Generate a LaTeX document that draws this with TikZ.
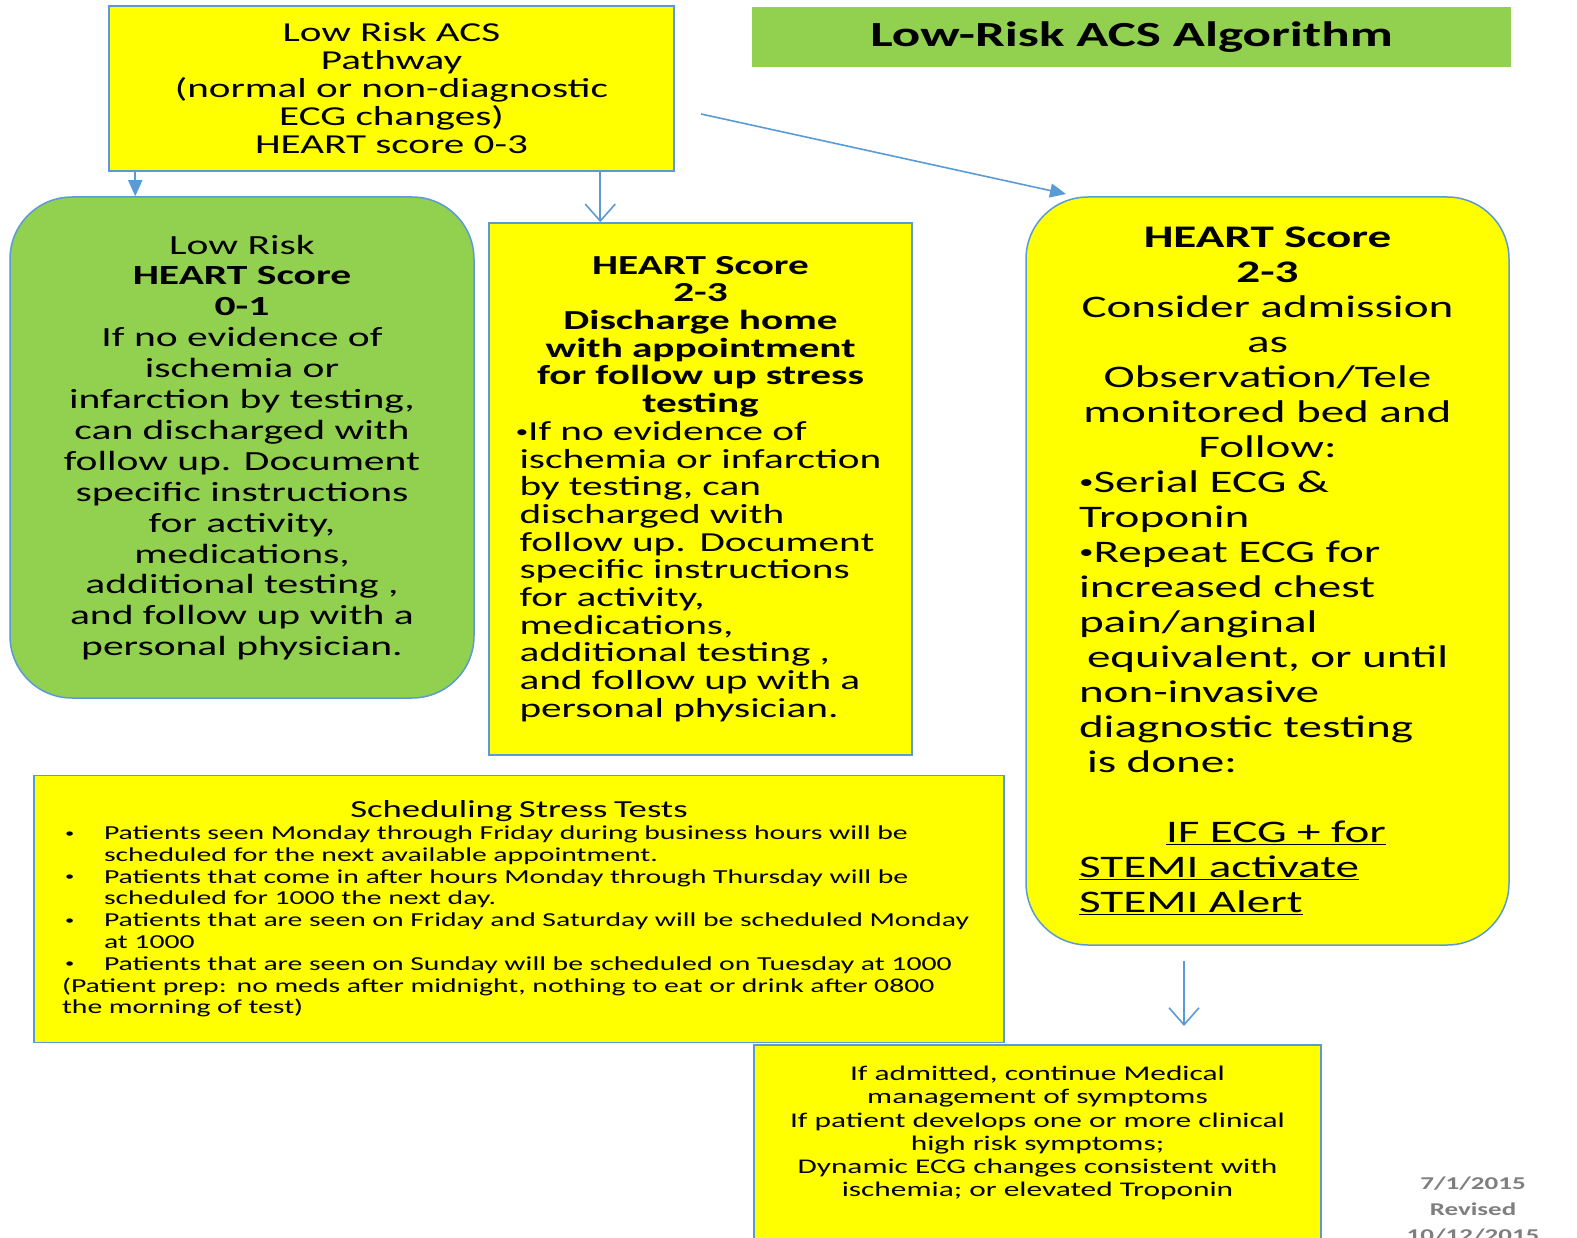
\documentclass[tikz,border=0pt]{standalone}
\usepackage{graphicx}
\usepackage{fontspec}
\setmainfont{Carlito}[FakeStretch=1.5]
\usetikzlibrary{arrows.meta,calc}
\definecolor{boxyellow}{HTML}{FFFF00}
\definecolor{boxgreen}{HTML}{92D050}
\definecolor{edgeblue}{HTML}{5B9BD5}
\definecolor{dategray}{HTML}{7F7F7F}
\newcommand\smallbul{\raisebox{0.12em}{\scalebox{0.62}{•}}}
\newcommand\listbul{\makebox[42pt][l]{\hspace*{3pt}\smallbul}}
\begin{document}
\begin{tikzpicture}[x=1pt,y=-1pt,
  panel/.style={draw=edgeblue, line width=1.5pt, inner sep=0pt},
  ybox/.style={panel, fill=boxyellow},
  gbox/.style={panel, fill=boxgreen},
  roundbox/.style={rounded corners=62pt},
  arrfill/.style={draw=edgeblue, line width=1.6pt, -{Triangle[length=16pt,width=14pt]}},
  arrbarb/.style={draw=edgeblue, line width=1.6pt, -{Straight Barb[length=17pt,width=30pt,line width=1.6pt]}},
]
\useasboundingbox (0,0) rectangle (1577,1238);
\fill[white] (0,0) rectangle (1577,1238);

% title banner
\node[fill=boxgreen, inner sep=0pt, minimum width=759pt, minimum height=60pt,
      font={\fontsize{35.3}{38}\selectfont\bfseries}] (title) at (1131.5,37) {Low-Risk ACS Algorithm};

% entry box
\node[ybox, minimum width=565pt, minimum height=165pt, align=center,
      font={\fontsize{27.4}{28}\selectfont}] (top) at (391.5,88.5)
  {Low Risk ACS\\Pathway\\(normal or non-diagnostic\\ECG changes)\\HEART score 0-3};

% HEART 0-1
\node[gbox, roundbox, minimum width=464pt, minimum height=501pt, align=center,
      font={\fontsize{27.7}{30.9}\selectfont}] (green) at (242,447.5)
  {Low Risk\\\textbf{HEART Score}\\\textbf{0-1}\\If no evidence of\\ischemia or\\infarction by testing,\\can discharged with\\follow up. Document\\specific instructions\\for activity,\\medications,\\additional testing ,\\and follow up with a\\personal physician.};

% HEART 2-3 discharge
\node[ybox, minimum width=423pt, minimum height=532pt, text width=376pt, align=left,
      font={\fontsize{27.5}{27.7}\selectfont}] (mid) at (700.5,489)
  {\parindent=0pt
   {\centering\bfseries HEART Score\\2-3\\Discharge home\\with appointment\\for follow up stress\\testing\par}
   {\raggedright\leftskip=7pt\hspace*{-4pt}\smallbul If no evidence of\\ischemia or infarction\\by testing, can\\discharged with\\follow up. Document\\specific instructions\\for activity,\\medications,\\additional testing ,\\and follow up with a\\personal physician.\par}};

% HEART 2-3 admission
\node[ybox, roundbox, minimum width=483pt, minimum height=748pt, text width=377pt, align=left,
      font={\fontsize{31.4}{35}\selectfont}] (right) at (1267.5,571)
  {\parindent=0pt
   {\centering\textbf{HEART Score}\\\textbf{2-3}\\Consider admission\\as\\ Observation/Tele\\monitored bed and\\Follow:\par}
   {\raggedright \smallbul Serial ECG \&\\Troponin\\\smallbul Repeat ECG for\\increased chest\\pain/anginal\\\hspace*{8pt}equivalent, or until\\non-invasive\\diagnostic testing\\\hspace*{8pt}is done:\\[35pt]
   \hspace*{87pt}\underline{IF ECG + for}\\\underline{STEMI activate}\\\underline{STEMI Alert}\par}
   \vspace*{-18pt}};

% scheduling notes
\node[ybox, minimum width=970pt, minimum height=267pt, text width=914pt, align=left,
      font={\fontsize{19.8}{21.8}\selectfont}] (sched) at (519,909)
  {\parindent=0pt
   {\centering\fontsize{24.5}{24}\selectfont Scheduling Stress Tests\par}
   \raggedright
   \listbul Patients seen Monday through Friday during business hours will be\par
   \hspace*{42pt}scheduled for the next available appointment.\par
   \listbul Patients that come in after hours Monday through Thursday will be\par
   \hspace*{42pt}scheduled for 1000 the next day.\par
   \listbul Patients that are seen on Friday and Saturday will be scheduled Monday\par
   \hspace*{42pt}at 1000\par
   \listbul Patients that are seen on Sunday will be scheduled on Tuesday at 1000\par
   (Patient prep: no meds after midnight, nothing to eat or drink after 0800\par
   the morning of test)\par};

% follow-up box (runs past the lower edge)
\node[ybox, anchor=north, minimum width=567pt, minimum height=230pt] (botbox) at (1037.5,1044) {};
\node[align=center, font={\fontsize{20.9}{23.1}\selectfont}] (bottxt) at (1037.5,1133)
  {If admitted, continue Medical\\management of symptoms\\If patient develops one or more clinical\\high risk symptoms;\\Dynamic ECG changes consistent with\\ischemia; or elevated Troponin};

% revision stamp
\node[align=center, text=dategray, font={\fontsize{18}{26}\selectfont\bfseries}] (stamp) at (1473,1210)
  {7/1/2015\\Revised\\10/12/2015};

% connectors
\coordinate (diagfrom) at (701,114);
\coordinate (diagto) at (1066,194);
\coordinate (downfrom) at (1184,961);
\draw[arrfill] ([xshift=27pt]top.south west) -- ([xshift=27pt]top.south west |- green.north);
\draw[arrbarb] ([xshift=112pt]mid.north west |- top.south) -- ([xshift=112pt]mid.north west);
\draw[arrfill] (diagfrom) -- (diagto);
\draw[arrbarb] (downfrom) -- ($(downfrom |- botbox.north)+(0,-18)$);
\end{tikzpicture}
\end{document}
